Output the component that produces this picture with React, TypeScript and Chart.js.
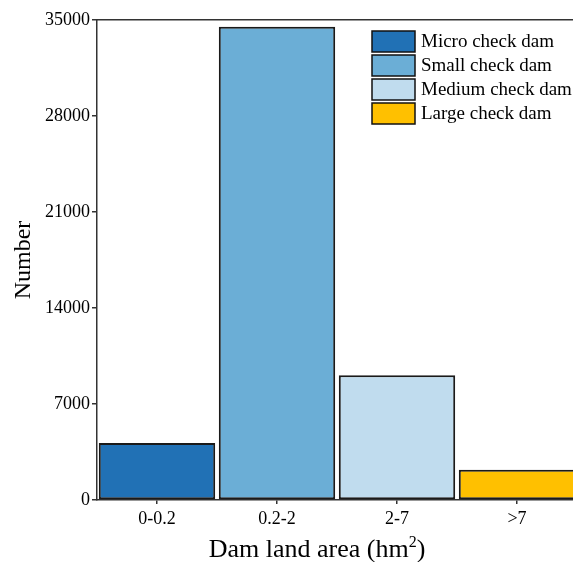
import React, { useEffect, useRef } from "react";
import { Chart, registerables } from "chart.js";

Chart.register(...registerables);

const categories = ["0-0.2", "0.2-2", "2-7", ">7"];
const counts = [4150, 34500, 9100, 2200];
const seriesNames = ["Micro check dam", "Small check dam", "Medium check dam", "Large check dam"];
const colors = ["#2171b5", "#6baed6", "#c0dcee", "#ffc000"];
const yTicks = [0, 7000, 14000, 21000, 28000, 35000];
const xTitleMain = "Dam land area (hm";
const xTitleSup = "2";
const xTitleEnd = ")";

const FONT = "'Liberation Serif', 'Times New Roman', serif";

const legendPlugin = {
  id: "insideLegend",
  afterDraw(chart: any) {
    const ctx = chart.ctx;
    const area = chart.chartArea;
    const boxX = area.left + 275;
    const top = area.top + 11;
    ctx.save();
    seriesNames.forEach((name, i) => {
      const y = top + i * 24;
      ctx.fillStyle = colors[i];
      ctx.fillRect(boxX, y, 43, 21);
      ctx.lineWidth = 1.5;
      ctx.strokeStyle = "#111";
      ctx.strokeRect(boxX, y, 43, 21);
      ctx.fillStyle = "#000";
      ctx.font = `19px ${FONT}`;
      ctx.textBaseline = "middle";
      ctx.textAlign = "left";
      ctx.fillText(name, boxX + 49, y + 11);
    });
    ctx.restore();
  },
};

const xTitlePlugin = {
  id: "xTitleSup",
  afterDraw(chart: any) {
    const ctx = chart.ctx;
    ctx.save();
    ctx.fillStyle = "#000";
    ctx.textBaseline = "alphabetic";
    ctx.textAlign = "left";
    const big = `26px ${FONT}`;
    const small = `16px ${FONT}`;
    ctx.font = big;
    const w1 = ctx.measureText(xTitleMain).width;
    const w3 = ctx.measureText(xTitleEnd).width;
    ctx.font = small;
    const w2 = ctx.measureText(xTitleSup).width;
    const total = w1 + w2 + w3;
    const cx = 317;
    const base = 557;
    let x = cx - total / 2;
    ctx.font = big;
    ctx.fillText(xTitleMain, x, base);
    x += w1;
    ctx.font = small;
    ctx.fillText(xTitleSup, x, base - 10);
    x += w2;
    ctx.font = big;
    ctx.fillText(xTitleEnd, x, base);
    ctx.restore();
  },
};

export default function App() {
  const ref = useRef<HTMLCanvasElement>(null);
  useEffect(() => {
    if (!ref.current) return;
    const chart = new Chart(ref.current, {
      type: "bar",
      data: {
        labels: categories,
        datasets: [
          {
            label: "Number",
            data: counts,
            backgroundColor: colors,
            borderColor: "#1a1a1a",
            borderWidth: 2,
            borderSkipped: false,
            barPercentage: 0.97,
            categoryPercentage: 1,
          },
        ],
      },
      options: {
        responsive: false,
        animation: false,
        devicePixelRatio: 1,
        layout: { padding: { top: 20, right: 0, bottom: 0, left: 0 } },
        plugins: { legend: { display: false }, tooltip: { enabled: false } },
        scales: {
          x: {
            type: "category",
            offset: true,
            afterFit: (s: any) => {
              s.height = 62;
            },
            grid: {
              display: true,
              drawOnChartArea: false,
              drawTicks: true,
              tickLength: 4,
              offset: false,
              color: "#333",
              lineWidth: 1.5,
            },
            border: { display: true, color: "#333", width: 1.5 },
            ticks: { color: "#000", font: { family: FONT, size: 18 }, padding: 4 },
            title: { display: false },
          },
          x2: {
            type: "category",
            position: "top",
            labels: categories,
            afterFit: (s: any) => {
              s.height = 0;
            },
            grid: { display: false },
            ticks: { display: false },
            border: { display: true, color: "#333", width: 1.5 },
          },
          y: {
            min: 0,
            max: 35000,
            afterFit: (s: any) => {
              s.width = 97;
            },
            afterBuildTicks: (s: any) => {
              s.ticks = yTicks.map((v) => ({ value: v }));
            },
            grid: {
              display: true,
              drawOnChartArea: false,
              drawTicks: true,
              tickLength: 5,
              color: "#333",
              lineWidth: 1.5,
            },
            border: { display: true, color: "#333", width: 1.5 },
            ticks: {
              color: "#000",
              font: { family: FONT, size: 18 },
              padding: 2,
              callback: (v: any) => String(v),
            },
            title: {
              display: true,
              text: "Number",
              color: "#000",
              font: { family: FONT, size: 24, lineHeight: 1 },
              padding: { top: 12, bottom: 0 },
            },
          },
        },
      },
      plugins: [legendPlugin, xTitlePlugin],
    });
    return () => chart.destroy();
  }, []);
  return (
    <div style={{ position: "fixed", left: 0, top: 0, width: 573, height: 562, overflow: "hidden", background: "#fff" }}>
      <canvas ref={ref} width={577} height={562} style={{ display: "block" }} />
    </div>
  );
}
